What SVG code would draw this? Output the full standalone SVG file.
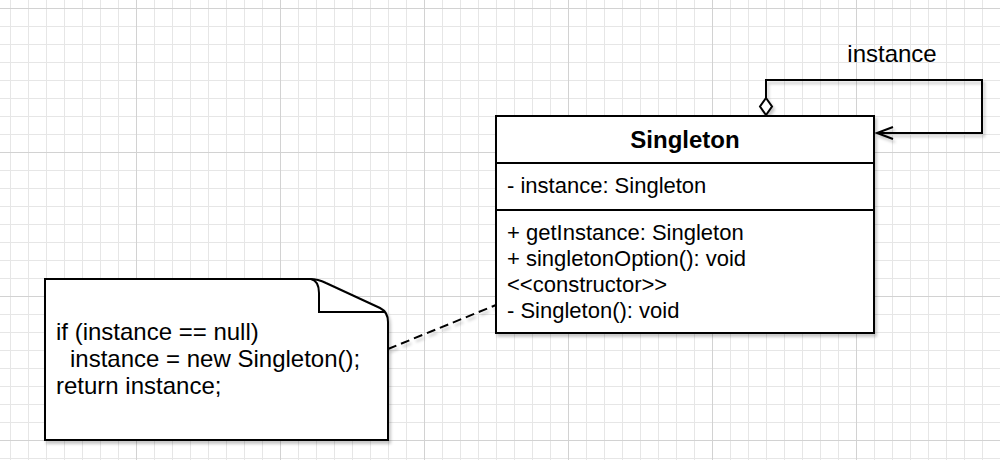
<svg xmlns="http://www.w3.org/2000/svg" width="1000" height="460" viewBox="0 0 1000 460">
  <defs>
    <pattern id="gridMinor" x="10" y="8" width="18" height="18" patternUnits="userSpaceOnUse">
      <path d="M0 0.5 H18 M0.5 0 V18" fill="none" stroke="#e6e6e6" stroke-width="1"/>
    </pattern>
    <pattern id="gridMajor" x="136" y="8" width="144" height="144" patternUnits="userSpaceOnUse">
      <path d="M0 0.5 H144 M0.5 0 V144" fill="none" stroke="#d2d2d2" stroke-width="1"/>
    </pattern>
    <filter id="shadow" x="-10%" y="-10%" width="130%" height="140%">
      <feDropShadow dx="2" dy="3" stdDeviation="1.5" flood-color="#000" flood-opacity="0.22"/>
    </filter>
    <style>
      .shape { fill: #ffffff; stroke: #000000; stroke-width: 2; }
      .line { fill: none; stroke: #000000; stroke-width: 2; }
      .txt { font-family: "Liberation Sans", Arial, Helvetica, sans-serif; font-size: 22px; fill: #000000; }
      .big { font-family: "Liberation Sans", Arial, Helvetica, sans-serif; font-size: 24px; fill: #000000; }
      .title { font-family: "Liberation Sans", Arial, Helvetica, sans-serif; font-size: 24px; font-weight: bold; fill: #000000; }
    </style>
  </defs>

  <rect x="0" y="0" width="1000" height="460" fill="#ffffff"/>
  <rect x="0" y="0" width="1000" height="460" fill="url(#gridMinor)"/>
  <rect x="0" y="0" width="1000" height="460" fill="url(#gridMajor)"/>

  <g id="connectors">
    <path class="line" d="M388,349 L496,305" stroke-dasharray="9 5" filter="url(#shadow)"/>
    <g filter="url(#shadow)">
      <path class="line" d="M766,98 V80 H982 V133 H877"/>
      <polyline class="line" points="893,127 877,133 893,139"/>
      <polygon class="shape" points="766,98 772,106.5 766,115 760,106.5"/>
    </g>
    <text class="big" x="892" y="62" text-anchor="middle">instance</text>
  </g>

  <g id="singleton">
    <rect class="shape" x="496" y="116" width="378" height="217" filter="url(#shadow)"/>
    <line class="line" x1="496" y1="163" x2="874" y2="163"/>
    <line class="line" x1="496" y1="210" x2="874" y2="210"/>
    <text class="title" x="685" y="148" text-anchor="middle">Singleton</text>
    <text class="txt" x="507" y="193">- instance: Singleton</text>
    <text class="txt" x="507" y="240">+ getInstance: Singleton</text>
    <text class="txt" x="507" y="266">+ singletonOption(): void</text>
    <text class="txt" x="507" y="292">&lt;&lt;constructor&gt;&gt;</text>
    <text class="txt" x="507" y="318">- Singleton(): void</text>
  </g>

  <g id="note">
    <path class="shape" d="M45,279 H310 Q318,279 326,283 L380,308 Q388,312 388,322 V440 H45 Z" filter="url(#shadow)"/>
    <path class="line" d="M311,279 Q319,281 319,293 V312 H384"/>
    <text class="big" x="56" y="340">if (instance == null)</text>
    <text class="big" x="70" y="367">instance = new Singleton();</text>
    <text class="big" x="56" y="394">return instance;</text>
  </g>
</svg>
